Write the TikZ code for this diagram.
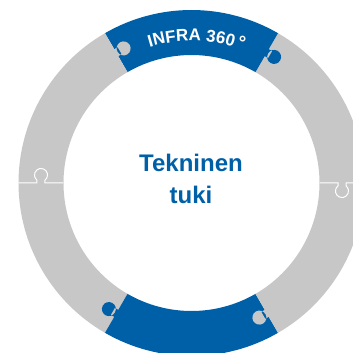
\documentclass[tikz,border=0pt]{standalone}
\usepackage{fontspec}
\setmainfont{Liberation Sans}
\usetikzlibrary{decorations.text}
\definecolor{infblue}{RGB}{0,96,167}
\definecolor{infgrey}{RGB}{199,199,199}
\begin{document}
\begin{tikzpicture}[
  seam/.style={draw=white, line width=1pt},
  centertext/.style={font=\fontsize{24}{28}\selectfont\bfseries, text=infblue, inner sep=0pt, anchor=base}
]
\useasboundingbox (-191.5pt,-170pt) rectangle (161.5pt,183pt);
\clip (-191.5pt,-170pt) rectangle (161.5pt,183pt);
\def\Ro{173pt}\def\Ri{128pt}
% ring pieces
\foreach \a/\b/\c in {0/60/infgrey,60/120/infblue,120/180/infgrey,180/240/infgrey,240/300/infblue,300/360/infgrey}
  \fill[\c] (\a:\Ri) -- (\a:\Ro) arc[start angle=\a, end angle=\b, radius=\Ro] -- (\b:\Ri) arc[start angle=\b, end angle=\a, radius=\Ri] -- cycle;
% coloured knobs
\foreach \a/\c in {60/infblue,120/infgrey,240/infblue,300/infgrey}
  \fill[\c, shift={(\a:150.5pt)}, rotate=\a-90] (-1pt,-4pt) rectangle (4pt,4pt) (8.5pt,0pt) circle[radius=7pt];
% grey-grey seams
\foreach \a in {0,180}
  \draw[seam, shift={(\a:150.5pt)}, rotate=\a-90] (0pt,-22.5pt) -- (0pt,-4pt) -- (2.88pt,-4pt) arc[start angle=-142, end angle=142, radius=6.5pt] -- (0pt,4pt) -- (0pt,22.5pt);
% curved title
\path[decorate, decoration={text along path, text align=center,
  text={|\fontsize{17}{20}\selectfont\bfseries\color{white}|INFRA 360|\fontsize{8}{10}\selectfont\bfseries\color{white}| |\fontsize{19}{20}\selectfont\bfseries\color{white}|°}}]
  (128:142pt) arc[start angle=128, end angle=48, radius=142pt];
% centre text
\node[centertext] (t1) at (-0.5pt,11pt) {Tekninen};
\node[centertext] (t2) at (-0.5pt,-20pt) {tuki};
\end{tikzpicture}
\end{document}
